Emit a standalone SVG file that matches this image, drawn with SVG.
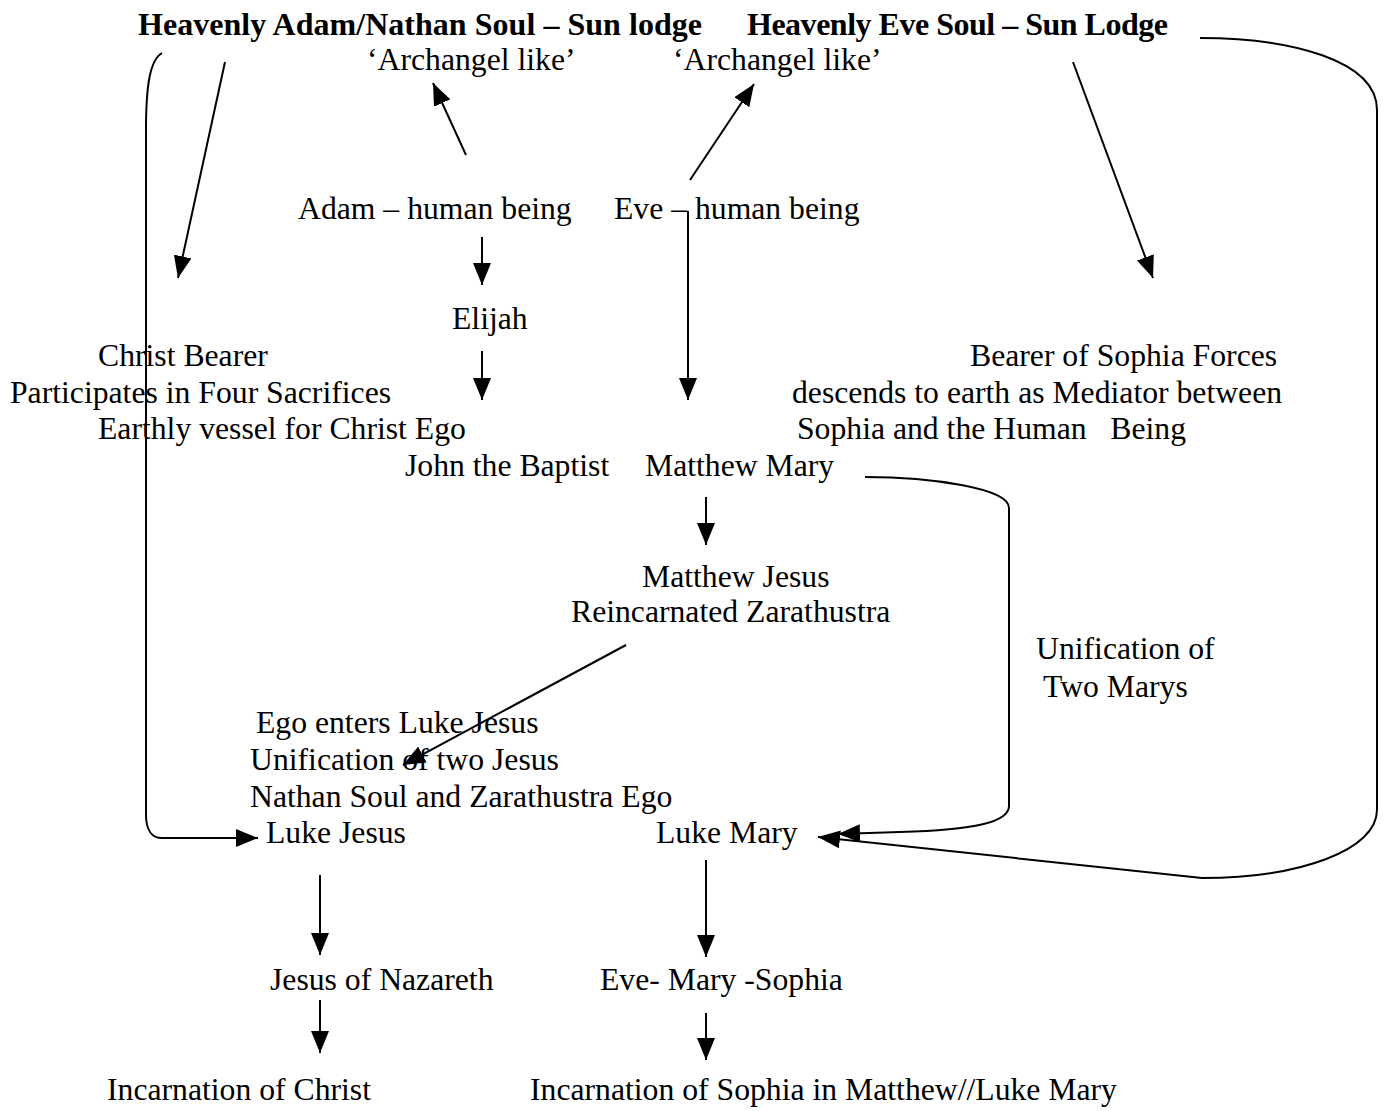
<svg xmlns="http://www.w3.org/2000/svg" width="1388" height="1111" viewBox="0 0 1388 1111">
<defs>
<marker id="ah" markerUnits="userSpaceOnUse" markerWidth="22" markerHeight="18" refX="22" refY="9" orient="auto">
<path d="M0,0 L22,9 L0,18 z" fill="#000"/>
</marker>
<style>
text{font-family:"Liberation Serif","Times New Roman",serif;font-size:31.7px;fill:#000;white-space:pre}
.b{font-weight:bold;font-size:32px}
.c{fill:none;stroke:#000;stroke-width:2}
.a{marker-end:url(#ah)}
</style>
</defs>
<rect width="1388" height="1111" fill="#fff"/>
<g id="heavenly-adam"><text class="b" x="138" y="35" textLength="564" lengthAdjust="spacing">Heavenly Adam/Nathan Soul – Sun lodge</text></g>
<g id="heavenly-eve"><text class="b" x="747" y="35" textLength="421" lengthAdjust="spacing">Heavenly Eve Soul – Sun Lodge</text></g>
<g id="archangel-1"><text x="367" y="70">‘Archangel like’</text></g>
<g id="archangel-2"><text x="673" y="70">‘Archangel like’</text></g>
<g id="adam"><text x="298" y="219">Adam – human being</text></g>
<g id="eve"><text x="614" y="219">Eve – human being</text></g>
<g id="elijah"><text x="452" y="329">Elijah</text></g>
<g id="christ-bearer">
<text x="98" y="366">Christ Bearer</text>
<text x="10" y="403">Participates in Four Sacrifices</text>
<text x="98" y="439">Earthly vessel for Christ Ego</text>
</g>
<g id="sophia-bearer">
<text x="970" y="366">Bearer of Sophia Forces</text>
<text x="792" y="403">descends to earth as Mediator between</text>
<text x="797" y="439">Sophia and the Human   Being</text>
</g>
<g id="john"><text x="405" y="476">John the Baptist</text></g>
<g id="matthew-mary"><text x="645" y="476">Matthew Mary</text></g>
<g id="matthew-jesus">
<text x="642" y="587">Matthew Jesus</text>
<text x="571" y="622">Reincarnated Zarathustra</text>
</g>
<g id="unification-marys">
<text x="1036" y="659">Unification of</text>
<text x="1043" y="697">Two Marys</text>
</g>
<g id="ego-enters">
<text x="256" y="733">Ego enters Luke Jesus</text>
<text x="250" y="770">Unification of two Jesus</text>
<text x="250" y="807">Nathan Soul and Zarathustra Ego</text>
</g>
<g id="luke-jesus"><text x="266" y="843">Luke Jesus</text></g>
<g id="luke-mary"><text x="656" y="843">Luke Mary</text></g>
<g id="jesus-nazareth"><text x="270" y="990">Jesus of Nazareth</text></g>
<g id="eve-mary-sophia"><text x="600" y="990">Eve- Mary -Sophia</text></g>
<g id="incarnation-christ"><text x="107" y="1100">Incarnation of Christ</text></g>
<g id="incarnation-sophia"><text x="530" y="1100">Incarnation of Sophia in Matthew//Luke Mary</text></g>
<g id="connectors">
<path class="c a" d="M225,62 L178,278"/>
<path class="c a" d="M1073,62 L1153,278"/>
<path class="c a" d="M466,155 L433,83"/>
<path class="c a" d="M690,180 L754,84"/>
<path class="c a" d="M482,237 L482,285"/>
<path class="c a" d="M482,351 L482,400"/>
<path class="c a" d="M688,211 L688,400"/>
<path class="c a" d="M706,497 L706,545"/>
<path class="c a" d="M626,645 L403,765"/>
<path class="c a" d="M320,875 L320,955"/>
<path class="c a" d="M706,860 L706,957"/>
<path class="c a" d="M320,1000 L320,1053"/>
<path class="c a" d="M706,1013 L706,1060"/>
<path class="c a" d="M162,53 C150,60 146,85 146,130 L146,815 C146,830 152,838 162,838 L258,838"/>
<path class="c a" d="M1200,38 C1290,38 1377,60 1377,110 L1377,810 C1377,850 1300,878 1202,878 L818,837"/>
<path class="c a" d="M865,477 C930,477 1009,488 1009,508 L1009,806 C1009,822 975,830 900,832 L838,834"/>
</g>
</svg>
